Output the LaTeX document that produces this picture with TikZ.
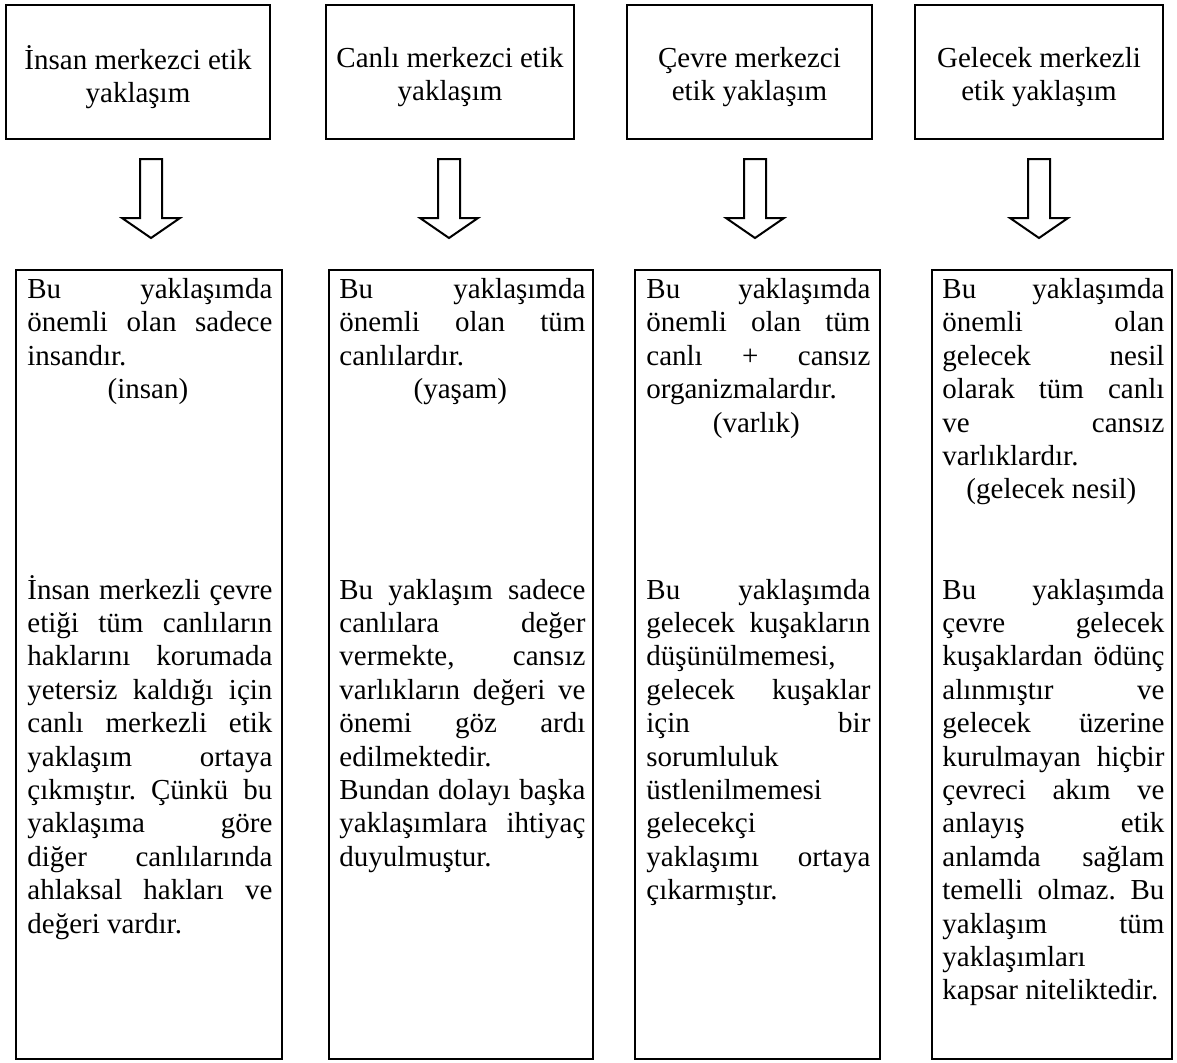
\documentclass[tikz,border=0pt]{standalone}
\usepackage{fontspec}
\setmainfont{Liberation Serif}
\newcommand\bodyfont{\fontsize{14.5pt}{16.7pt}\selectfont\frenchspacing}
\newcommand\lnstrut{\rule[-4.2pt]{0pt}{16.7pt}}
\newcommand\lnJ[1]{\hbox to\hsize{\lnstrut#1}}
\newcommand\lnL[1]{\hbox to\hsize{\lnstrut#1\hfil}}
\newcommand\lnC[1]{\hbox to\hsize{\lnstrut\hfil#1\hfil\kern2pt}}
\newcommand\lnE{\hbox to\hsize{\lnstrut\hfil}}
\newcommand\colbody[2]{\vtop{\hsize=#1\relax\parindent=0pt\baselineskip=16.7pt\lineskip=0pt\lineskiplimit=-50pt #2}}
\tikzset{
  headbox/.style={draw, line width=1.3pt, rectangle, inner sep=0pt, minimum height=67pt},
  headtext/.style={align=center, inner sep=0pt, font=\bodyfont},
  bodybox/.style={draw, line width=1.3pt, rectangle, inner sep=0pt, minimum height=394.5pt},
  bodytext/.style={anchor=north west, inner sep=0pt, font=\bodyfont},
  arrowline/.style={draw, line width=1pt, fill=white, line join=miter},
  blockarrow/.pic={\draw[arrowline] (-11,0) -- (11,0) -- (11,59) -- (29,59) -- (0,79) -- (-29,59) -- (-11,59) -- cycle;}
}
\begin{document}
\begin{tikzpicture}[x=0.5pt,y=-0.5pt]
\fill[white] (0,0) rectangle (1177,1062);
\useasboundingbox (0,0) rectangle (1177,1062);

% top boxes
\node[headbox, minimum width=132pt] (t1) at (138,72) {};
\node[headbox, minimum width=124pt] (t2) at (450,72) {};
\node[headbox, minimum width=122.5pt] (t3) at (749.5,72) {};
\node[headbox, minimum width=124pt] (t4) at (1039,72) {};
\node[headtext] (t1x) at ([yshift=-2.5pt]t1.center) {İnsan merkezci etik\\yaklaşım};
\node[headtext] (t2x) at ([yshift=-2.5pt]t2.center) {Canlı merkezci etik\\yaklaşım};
\node[headtext] (t3x) at ([yshift=-2.5pt]t3.center) {Çevre merkezci\\etik yaklaşım};
\node[headtext] (t4x) at ([yshift=-2.5pt]t4.center) {Gelecek merkezli\\etik yaklaşım};

% arrows
\coordinate (a1) at (151,159);
\coordinate (a2) at (449,159);
\coordinate (a3) at (755,159);
\coordinate (a4) at (1039,159);
\pic at (a1) {blockarrow};
\pic at (a2) {blockarrow};
\pic at (a3) {blockarrow};
\pic at (a4) {blockarrow};

% bottom boxes
\node[bodybox, minimum width=133pt] (b1) at (149,664.5) {};
\node[bodybox, minimum width=132pt] (b2) at (461,664.5) {};
\node[bodybox, minimum width=122.5pt] (b3) at (757.5,664.5) {};
\node[bodybox, minimum width=120pt] (b4) at (1052,664.5) {};

\node[bodytext] (b1x) at (27,273) {\colbody{122.5pt}{%
\lnJ{Bu yaklaşımda}
\lnJ{önemli olan sadece}
\lnL{insandır.}
\lnC{(insan)}
\lnE\lnE\lnE\lnE\lnE
\lnJ{İnsan merkezli çevre}
\lnJ{etiği tüm canlıların}
\lnJ{haklarını korumada}
\lnJ{yetersiz kaldığı için}
\lnJ{canlı merkezli etik}
\lnJ{yaklaşım ortaya}
\lnJ{çıkmıştır. Çünkü bu}
\lnJ{yaklaşıma göre}
\lnJ{diğer canlılarında}
\lnJ{ahlaksal hakları ve}
\lnL{değeri vardır.}}};

\node[bodytext] (b2x) at (339,273) {\colbody{123pt}{%
\lnJ{Bu yaklaşımda}
\lnJ{önemli olan tüm}
\lnL{canlılardır.}
\lnC{(yaşam)}
\lnE\lnE\lnE\lnE\lnE
\lnJ{Bu yaklaşım sadece}
\lnJ{canlılara değer}
\lnJ{vermekte, cansız}
\lnJ{varlıkların değeri ve}
\lnJ{önemi göz ardı}
\lnL{edilmektedir.}
\lnJ{Bundan dolayı başka}
\lnJ{yaklaşımlara ihtiyaç}
\lnL{duyulmuştur.}}};

\node[bodytext] (b3x) at (646,273) {\colbody{112pt}{%
\lnJ{Bu yaklaşımda}
\lnJ{önemli olan tüm}
\lnJ{canlı + cansız}
\lnL{organizmalardır.}
\lnC{(varlık)}
\lnE\lnE\lnE\lnE
\lnJ{Bu yaklaşımda}
\lnJ{gelecek kuşakların}
\lnL{düşünülmemesi,}
\lnJ{gelecek kuşaklar}
\lnJ{için bir}
\lnL{sorumluluk}
\lnL{üstlenilmemesi}
\lnL{gelecekçi}
\lnJ{yaklaşımı ortaya}
\lnL{çıkarmıştır.}}};

\node[bodytext] (b4x) at (942,273) {\colbody{111pt}{%
\lnJ{Bu yaklaşımda}
\lnJ{önemli olan}
\lnJ{gelecek nesil}
\lnJ{olarak tüm canlı}
\lnJ{ve cansız}
\lnL{varlıklardır.}
\lnC{(gelecek nesil)}
\lnE\lnE
\lnJ{Bu yaklaşımda}
\lnJ{çevre gelecek}
\lnJ{kuşaklardan ödünç}
\lnJ{alınmıştır ve}
\lnJ{gelecek üzerine}
\lnJ{kurulmayan hiçbir}
\lnJ{çevreci akım ve}
\lnJ{anlayış etik}
\lnJ{anlamda sağlam}
\lnJ{temelli olmaz. Bu}
\lnJ{yaklaşım tüm}
\lnL{yaklaşımları}
\lnL{kapsar niteliktedir.}}};
\end{tikzpicture}
\end{document}
